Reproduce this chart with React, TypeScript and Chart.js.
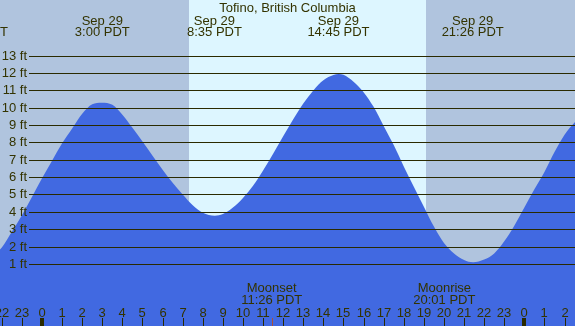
import { useEffect, useRef } from 'react';
import { Chart, registerables } from 'chart.js';

Chart.register(...registerables);

// ---- data ----
const titleText = 'Tofino, British Columbia';
const tideHours = [-3.5, -3.24, -3, -2.5, -2, -1.5, -1, -0.5, 0, 0.5, 1, 1.5, 2, 2.5, 2.97, 3.5, 4, 4.5, 5, 5.5, 6, 6.5, 7, 7.5, 8, 8.6, 9, 9.5, 10, 10.5, 11, 11.5, 12, 12.5, 13, 13.5, 14, 14.5, 14.77, 15, 15.5, 16, 16.5, 17, 17.5, 18, 18.5, 19, 19.5, 20, 20.5, 21, 21.45, 22, 22.5, 23, 23.5, 24, 24.5, 25, 25.5, 26, 26.5, 27];
const tideFeet = [1.13, 1.1, 1.15, 1.4, 1.95, 2.85, 3.8, 4.85, 5.93, 6.95, 7.95, 8.8, 9.65, 10.2, 10.29, 10.17, 9.6, 8.85, 8.05, 7.23, 6.43, 5.68, 5.0, 4.38, 3.95, 3.78, 3.88, 4.25, 4.8, 5.5, 6.38, 7.35, 8.35, 9.33, 10.25, 11.0, 11.58, 11.88, 11.95, 11.9, 11.5, 10.9, 10.05, 8.95, 7.85, 6.62, 5.45, 4.3, 3.15, 2.2, 1.6, 1.22, 1.09, 1.25, 1.6, 2.3, 3.2, 4.25, 5.3, 6.3, 7.45, 8.45, 9.15, 9.7];

const eventHours = [-3.24, 3.0, 8.58, 14.75, 21.43];
const eventDates = ['Sep 28', 'Sep 29', 'Sep 29', 'Sep 29', 'Sep 29'];
const eventTimes = ['20:46 PDT', '3:00 PDT', '8:35 PDT', '14:45 PDT', '21:26 PDT'];

const moonHours = [11.43, 20.02];
const moonNames = ['Moonset', 'Moonrise'];
const moonTimes = ['11:26 PDT', '20:01 PDT'];

const feetTicks = [1, 2, 3, 4, 5, 6, 7, 8, 9, 10, 11, 12, 13];
const sunriseHour = 7.31;
const sunsetHour = 19.1;

const xMin = -2.09;
const xMax = 26.52;
const yMin = -2.58;
const yMax = 16.21;

const FONT = '13px "Liberation Sans", Arial, sans-serif';
const TEXT = '#333300';
const LINE = '#2a2a00';
const NIGHT = '#b0c4de';
const DAY = '#ddf6ff';
const WATER = '#4169e1';
const MOON = '#a8503c';

const tidePlugin = {
  id: 'tideDecor',
  beforeDatasetsDraw(chart: any) {
    const { ctx, chartArea: a, scales } = chart;
    const x = scales.x;
    ctx.save();
    ctx.fillStyle = NIGHT;
    ctx.fillRect(a.left, a.top, a.right - a.left, a.bottom - a.top);
    const x0 = Math.round(x.getPixelForValue(sunriseHour));
    const x1 = Math.round(x.getPixelForValue(sunsetHour));
    ctx.fillStyle = DAY;
    ctx.fillRect(x0, a.top, x1 - x0, a.bottom - a.top);
    ctx.restore();
  },
  afterDatasetsDraw(chart: any) {
    const { ctx, chartArea: a, scales } = chart;
    const x = scales.x;
    const y = scales.y;
    ctx.save();
    ctx.font = FONT;
    // horizontal feet lines and labels
    feetTicks.forEach((v) => {
      const py = Math.round(y.getPixelForValue(v));
      ctx.fillStyle = LINE;
      ctx.fillRect(29, py, a.right - 29, 1);
      ctx.fillStyle = TEXT;
      ctx.textAlign = 'right';
      ctx.textBaseline = 'middle';
      ctx.fillText(`${v} ft`, 27, py + 0.5);
    });
    // title
    ctx.fillStyle = TEXT;
    ctx.textAlign = 'center';
    ctx.textBaseline = 'alphabetic';
    ctx.fillText(titleText, (a.left + a.right) / 2, 12);
    // tide event labels
    eventHours.forEach((h, i) => {
      const px = x.getPixelForValue(h);
      ctx.fillText(eventDates[i], px, 25);
      ctx.fillText(eventTimes[i], px, 36);
    });
    // moon labels
    moonHours.forEach((h, i) => {
      const px = x.getPixelForValue(h);
      ctx.fillStyle = TEXT;
      ctx.fillText(moonNames[i], px, 292);
      ctx.fillText(moonTimes[i], px, 304);
      ctx.fillStyle = MOON;
      ctx.fillRect(Math.round(px), 318, 1, 8);
    });
    // hour ticks
    for (let h = Math.ceil(xMin - 1); h <= Math.floor(xMax + 1); h++) {
      const px = Math.round(x.getPixelForValue(h));
      const hour = ((h % 24) + 24) % 24;
      ctx.fillStyle = TEXT;
      ctx.fillText(String(hour), px, 317);
      ctx.fillStyle = LINE;
      if (hour === 0) ctx.fillRect(px - 2, 318, 4, 8);
      else ctx.fillRect(px, 318, 1, 8);
    }
    ctx.restore();
  },
};

export default function App() {
  const ref = useRef<HTMLCanvasElement | null>(null);
  useEffect(() => {
    document.body.style.margin = '0';
    const canvas = ref.current;
    if (!canvas) return;
    const chart = new Chart(canvas, {
      type: 'line',
      data: {
        datasets: [
          {
            data: tideHours.map((h, i) => ({ x: h, y: tideFeet[i] })),
            borderWidth: 0,
            borderColor: 'rgba(0,0,0,0)',
            backgroundColor: WATER,
            fill: 'start',
            pointRadius: 0,
            cubicInterpolationMode: 'monotone',
          },
        ],
      },
      options: {
        responsive: false,
        animation: false,
        devicePixelRatio: 1,
        layout: { padding: 0 },
        plugins: { legend: { display: false }, tooltip: { enabled: false }, title: { display: false } },
        scales: {
          x: { type: 'linear', min: xMin, max: xMax, display: false },
          y: { type: 'linear', min: yMin, max: yMax, display: false },
        },
      },
      plugins: [tidePlugin],
    });
    return () => chart.destroy();
  }, []);
  return (
    <div style={{ width: 575, height: 326 }}>
      <canvas ref={ref} width={575} height={326} style={{ display: 'block' }} />
    </div>
  );
}
